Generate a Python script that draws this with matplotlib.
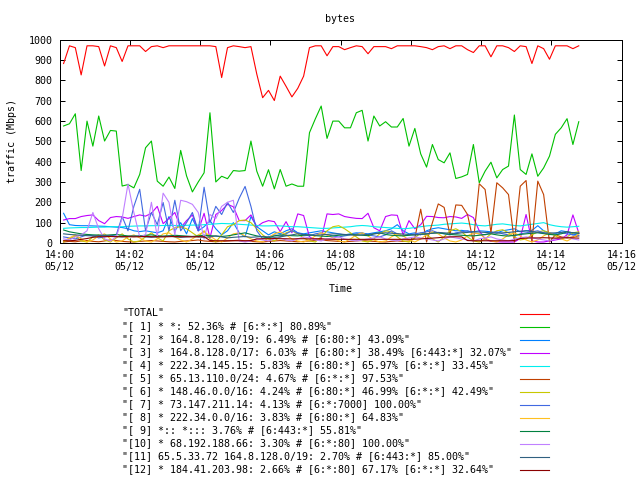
import matplotlib
matplotlib.use('Agg')
import matplotlib.pyplot as plt
import matplotlib.dates as mdates
from matplotlib.lines import Line2D
import pandas as pd

# samples every 10 seconds
times = pd.date_range('2012-05-12 14:00:07', periods=89, freq='10s')

total = [882, 969, 960, 826, 969, 969, 965, 870, 969, 960,
         892, 969, 969, 969, 941, 965, 969, 960, 969, 969,
         969, 969, 969, 969, 969, 969, 965, 813, 960, 969,
         965, 960, 965, 830, 714, 750, 700, 820, 770, 718,
         760, 820, 960, 969, 969, 920, 965, 965, 950, 960,
         969, 965, 930, 965, 965, 965, 955, 969, 969, 969,
         969, 965, 960, 950, 965, 969, 955, 969, 969, 950,
         936, 969, 969, 915, 969, 969, 960, 941, 969, 965,
         882, 969, 955, 903, 969, 969, 969, 955, 969]

s1 = [575, 586, 635, 356, 599, 476, 624, 501, 553, 550,
      280, 287, 271, 337, 468, 501, 304, 279, 324, 268,
      455, 330, 251, 300, 345, 640, 300, 328, 316, 356,
      353, 356, 501, 353, 279, 360, 266, 361, 279, 290,
      279, 279, 542, 610, 673, 514, 599, 599, 566, 566,
      640, 652, 501, 624, 575, 596, 570, 570, 612, 476,
      563, 438, 373, 484, 410, 394, 443, 317, 325, 337,
      484, 296, 353, 397, 320, 361, 378, 629, 361, 337,
      438, 328, 369, 427, 534, 566, 611, 484, 596]

s2 = [146, 90, 86, 85, 85, 84, 83, 82, 80, 78,
      76, 70, 60, 56, 60, 55, 50, 60, 130, 60,
      100, 45, 120, 60, 80, 110, 70, 40, 60, 100,
      50, 30, 130, 80, 60, 40, 55, 45, 60, 70,
      50, 45, 50, 55, 60, 55, 50, 45, 40, 45,
      50, 48, 45, 50, 55, 60, 70, 90, 60, 45,
      50, 40, 60, 70, 75, 70, 65, 60, 62, 58,
      55, 60, 58, 55, 50, 60, 65, 70, 55, 60,
      62, 85, 60, 50, 45, 60, 55, 40, 45]

s3 = [113, 120, 120, 130, 135, 138, 110, 95, 125, 130,
      128, 121, 130, 138, 132, 146, 180, 95, 121, 150,
      75, 110, 138, 60, 146, 25, 140, 160, 190, 178,
      110, 110, 138, 80, 100, 110, 105, 56, 105, 50,
      143, 135, 30, 15, 20, 143, 140, 143, 130, 125,
      121, 120, 146, 75, 60, 130, 138, 136, 40, 110,
      70, 90, 131, 130, 125, 124, 130, 128, 121, 140,
      125, 60, 20, 8, 6, 5, 5, 5, 22, 140,
      10, 5, 5, 10, 15, 20, 40, 138, 50]

s4 = [72, 74, 75, 76, 76, 77, 78, 78, 80, 80,
      80, 82, 83, 84, 84, 85, 85, 86, 86, 86,
      86, 87, 88, 88, 90, 92, 94, 96, 95, 94,
      92, 90, 88, 86, 84, 84, 85, 84, 82, 80,
      80, 78, 76, 74, 72, 72, 74, 76, 78, 80,
      84, 86, 84, 80, 78, 76, 74, 72, 70, 72,
      76, 80, 84, 86, 88, 92, 94, 96, 98, 95,
      90, 86, 84, 88, 92, 94, 90, 86, 84, 88,
      92, 96, 100, 90, 84, 80, 78, 80, 82]

s5 = [5, 8, 6, 10, 12, 8, 6, 10, 15, 12,
      8, 6, 5, 8, 10, 12, 10, 8, 6, 5,
      8, 10, 12, 15, 10, 8, 6, 8, 10, 12,
      14, 10, 8, 6, 5, 8, 10, 12, 10, 8,
      6, 8, 10, 12, 15, 12, 10, 8, 6, 8,
      10, 12, 10, 8, 6, 5, 8, 10, 8, 10,
      25, 166, 5, 100, 192, 175, 41, 187, 185, 140,
      5, 291, 263, 50, 296, 271, 238, 5, 279, 307,
      5, 304, 238, 5, 40, 30, 25, 30, 35]

s6 = [5, 20, 35, 10, 5, 30, 40, 15, 5, 25,
      45, 20, 5, 10, 30, 50, 25, 10, 60, 75,
      80, 70, 50, 30, 60, 20, 5, 40, 80, 90,
      110, 113, 100, 70, 40, 20, 10, 30, 50, 60,
      45, 25, 10, 5, 30, 60, 80, 85, 70, 50,
      30, 10, 5, 20, 45, 60, 55, 30, 10, 5,
      25, 50, 40, 20, 5, 30, 60, 70, 55, 30,
      10, 5, 20, 45, 60, 65, 50, 30, 15, 20,
      40, 55, 60, 50, 35, 20, 30, 50, 55]

s7 = [30, 25, 20, 30, 40, 35, 25, 30, 35, 40,
      130, 60, 180, 264, 60, 150, 90, 199, 60, 210,
      60, 100, 150, 60, 274, 100, 180, 140, 200, 150,
      220, 278, 180, 60, 20, 30, 40, 35, 45, 60,
      50, 40, 35, 45, 50, 40, 35, 30, 35, 40,
      45, 50, 40, 35, 30, 40, 60, 45, 35, 40,
      45, 50, 55, 60, 50, 45, 40, 50, 55, 60,
      50, 45, 40, 50, 55, 45, 40, 35, 45, 50,
      55, 60, 50, 45, 40, 50, 45, 40, 35]

s8 = [10, 25, 40, 20, 5, 15, 35, 45, 20, 5,
      10, 30, 40, 25, 10, 5, 20, 45, 50, 30,
      15, 5, 20, 40, 55, 35, 15, 5, 25, 45,
      50, 35, 20, 10, 5, 25, 45, 55, 40, 20,
      10, 5, 15, 35, 50, 40, 25, 10, 5, 20,
      40, 50, 35, 15, 5, 10, 30, 45, 35, 15,
      5, 20, 40, 55, 45, 25, 10, 5, 15, 35,
      50, 45, 25, 10, 5, 20, 40, 50, 35, 15,
      5, 15, 35, 50, 40, 20, 10, 25, 45]

s9 = [64, 55, 50, 45, 42, 40, 39, 38, 40, 42,
      38, 35, 33, 35, 38, 40, 36, 34, 35, 38,
      36, 34, 32, 35, 38, 36, 34, 32, 35, 40,
      45, 50, 42, 35, 30, 25, 35, 40, 38, 36,
      35, 38, 40, 36, 34, 32, 35, 38, 40, 42,
      40, 38, 36, 45, 50, 42, 38, 36, 35, 38,
      40, 42, 45, 48, 50, 46, 42, 40, 38, 36,
      35, 38, 42, 45, 40, 36, 34, 38, 42, 45,
      48, 50, 46, 42, 40, 45, 55, 50, 48]

s10 = [20, 15, 30, 40, 60, 150, 70, 20, 10, 30,
       120, 290, 150, 30, 40, 200, 30, 245, 200, 40,
       210, 203, 190, 150, 20, 140, 120, 180, 200, 210,
       10, 5, 10, 20, 15, 10, 20, 25, 15, 10,
       20, 30, 25, 15, 10, 20, 25, 30, 20, 15,
       10, 15, 20, 25, 30, 20, 15, 10, 20, 25,
       30, 25, 20, 15, 10, 20, 30, 25, 20, 15,
       10, 20, 25, 30, 20, 15, 10, 20, 25, 30,
       25, 20, 15, 10, 20, 25, 30, 20, 15]

s11 = [45, 42, 40, 38, 36, 35, 36, 38, 35, 32,
       30, 32, 35, 33, 30, 28, 30, 32, 35, 30,
       28, 30, 32, 30, 28, 30, 35, 30, 25, 28,
       30, 32, 28, 30, 32, 30, 28, 30, 35, 40,
       45, 42, 40, 38, 40, 42, 45, 44, 42, 40,
       38, 40, 42, 45, 48, 50, 48, 46, 44, 42,
       40, 42, 45, 48, 52, 50, 48, 46, 50, 52,
       55, 54, 52, 50, 48, 50, 52, 55, 58, 60,
       56, 52, 50, 48, 50, 52, 55, 50, 48]

s12 = [11, 11, 13, 18, 22, 28, 31, 31, 32, 31,
       31, 31, 30, 31, 32, 31, 31, 30, 31, 32,
       31, 31, 30, 31, 31, 12, 11, 11, 11, 11,
       11, 11, 12, 20, 21, 21, 22, 21, 21, 20,
       21, 21, 20, 21, 21, 19, 18, 18, 18, 18,
       18, 18, 18, 18, 18, 18, 18, 18, 18, 18,
       19, 20, 22, 24, 26, 29, 30, 31, 30, 12,
       11, 11, 11, 11, 11, 11, 11, 12, 22, 24,
       25, 25, 26, 25, 24, 25, 26, 25, 24]

labels = [
    '"TOTAL"',
    '"[ 1] * *: 52.36% # [6:*:*] 80.89%"',
    '"[ 2] * 164.8.128.0/19: 6.49% # [6:80:*] 43.09%"',
    '"[ 3] * 164.8.128.0/17: 6.03% # [6:80:*] 38.49% [6:443:*] 32.07%"',
    '"[ 4] * 222.34.145.15: 5.83% # [6:80:*] 65.97% [6:*:*] 33.45%"',
    '"[ 5] * 65.13.110.0/24: 4.67% # [6:*:*] 97.53%"',
    '"[ 6] * 148.46.0.0/16: 4.24% # [6:80:*] 46.99% [6:*:*] 42.49%"',
    '"[ 7] * 73.147.211.14: 4.13% # [6:*:7000] 100.00%"',
    '"[ 8] * 222.34.0.0/16: 3.83% # [6:80:*] 64.83%"',
    '"[ 9] *:: *::: 3.76% # [6:443:*] 55.81%"',
    '"[10] * 68.192.188.66: 3.30% # [6:*:80] 100.00%"',
    '"[11] 65.5.33.72 164.8.128.0/19: 2.70% # [6:443:*] 85.00%"',
    '"[12] * 184.41.203.98: 2.66% # [6:*:80] 67.17% [6:*:*] 32.64%"',
]
colors = ['#ff0000', '#00c000', '#0080ff', '#c000ff', '#00eeee', '#c04000',
          '#c8c800', '#4169e1', '#ffc020', '#008040', '#c080ff', '#306080',
          '#8b0000']
series = [total, s1, s2, s3, s4, s5, s6, s7, s8, s9, s10, s11, s12]

plt.rcParams['font.family'] = 'DejaVu Sans Mono'
plt.rcParams['font.size'] = 7.2

fig = plt.figure(figsize=(6.4, 4.8), dpi=100)
ax = fig.add_axes([59.5/640, 1 - 243/480, 562/640, 203.5/480])

for vals, col in zip(series, colors):
    ax.plot(times, vals, color=col, lw=0.8)

ax.set_xlim(pd.Timestamp('2012-05-12 14:00'), pd.Timestamp('2012-05-12 14:16'))
ax.set_ylim(0, 1000)
ax.set_yticks(range(0, 1001, 100))
ax.xaxis.set_major_locator(mdates.MinuteLocator(byminute=range(0, 60, 2)))
ax.xaxis.set_major_formatter(mdates.DateFormatter('%H:%M\n%m/%d'))
ax.tick_params(direction='in', top=True, right=True, length=3.5, width=0.72, pad=5)
for t in ax.get_xticklabels():
    t.set_linespacing(1.3)
for sp in ax.spines.values():
    sp.set_linewidth(0.72)

ax.set_xlabel('Time')
ax.xaxis.set_label_coords(0.5, -(289 - 243)/203.5)
ax.xaxis.label.set_va('center')
ax.set_ylabel('traffic (Mbps)')
ax.yaxis.set_label_coords(-(59.5 - 12)/562, 0.5)
ax.yaxis.label.set_va('center')
fig.text(340.5/640, 1 - 19/480, 'bytes', ha='center', va='center')

# key below the plot, text on the left and a line sample on the right
for k, (lab, col) in enumerate(zip(labels, colors)):
    y = 1 - (313.5 + 13*k)/480
    fig.text(122/640, y, lab, ha='left', va='center')
    fig.add_artist(Line2D([520/640, 549/640], [y, y], color=col, lw=0.8,
                          transform=fig.transFigure))

fig.savefig('out.png', dpi=100)
